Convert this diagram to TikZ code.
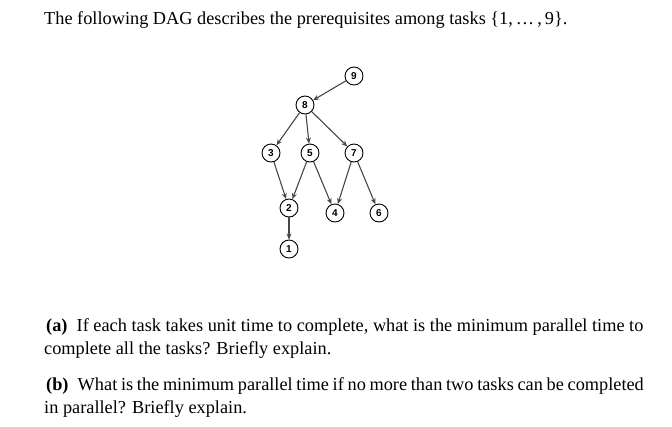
\documentclass[tikz,border=0pt]{standalone}
\usepackage{fontspec}
\setmainfont{Liberation Serif}
\newfontfamily\nodefont{Liberation Sans}
\usetikzlibrary{arrows.meta}
\begin{document}
\begin{tikzpicture}[x=1pt,y=-1pt,
  task/.style={circle,draw=black,line width=0.9pt,minimum size=18pt,inner sep=0pt,font=\nodefont\bfseries\fontsize{10}{10}\selectfont},
  edge/.style={draw=black!72,line width=1.1pt,-{Stealth[length=6pt,width=5pt]}},
  txt/.style={anchor=base west,inner sep=0pt,font=\fontsize{18.3}{23}\selectfont}]
\useasboundingbox (0,0) rectangle (672,426);
\node[txt] (title) at (44,24) {The following DAG describes the prerequisites among tasks \{1,\,\ldots\,,\,9\}.};
\node[task] (n9) at (354,76) {9};
\node[task] (n8) at (305,105) {8};
\node[task] (n3) at (271,153) {3};
\node[task] (n5) at (310,153) {5};
\node[task] (n7) at (354,153) {7};
\node[task] (n2) at (289,208) {2};
\node[task] (n4) at (335,213) {4};
\node[task] (n6) at (379,213) {6};
\node[task] (n1) at (289,249) {1};
\draw[edge] (n9) -- (n8);
\draw[edge] (n8) -- (n3);
\draw[edge] (n8) -- (n5);
\draw[edge] (n8) -- (n7);
\draw[edge] (n3) -- (n2);
\draw[edge] (n5) -- (n2);
\draw[edge] (n5) -- (n4);
\draw[edge] (n7) -- (n4);
\draw[edge] (n7) -- (n6);
\draw[edge] (n2) -- (n1);
\node[txt] (qa1) at (46,331) {\textbf{(a)}\enspace If each task takes unit time to complete, what is the minimum parallel time to};
\node[txt] (qa2) at (44,354) {complete all the tasks? Briefly explain.};
\node[txt] (qb1) at (46,390) {\spaceskip=3.7pt\textbf{(b)}\enspace What is the minimum parallel time if no more than two tasks can be completed};
\node[txt] (qb2) at (44,413) {in parallel? Briefly explain.};
\end{tikzpicture}
\end{document}
